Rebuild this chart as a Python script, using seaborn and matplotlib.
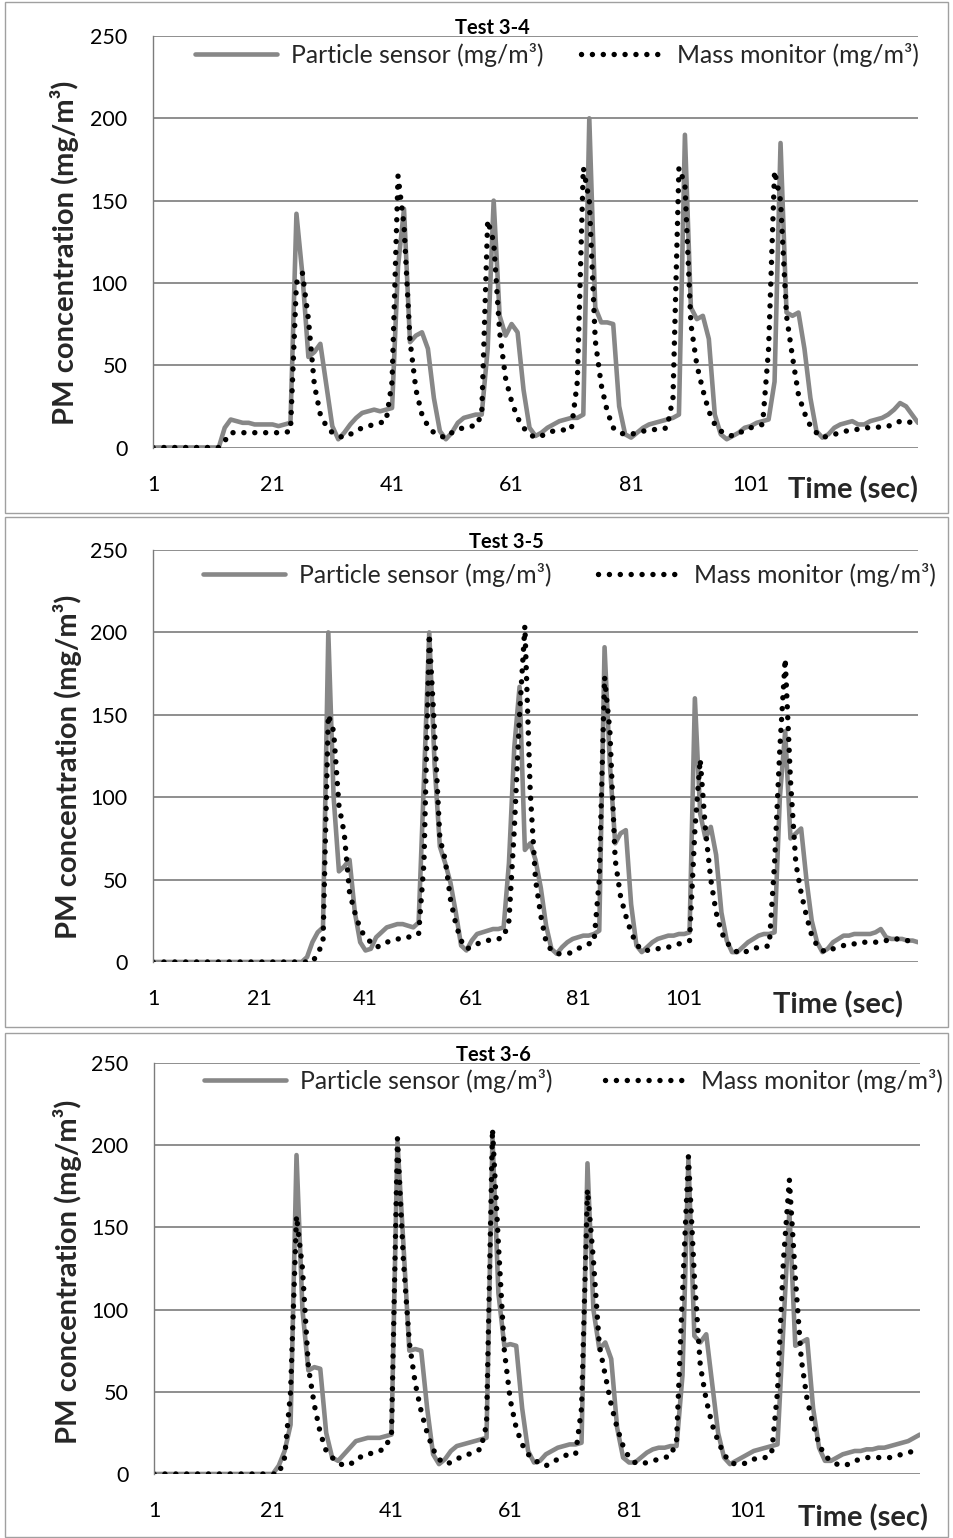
import numpy as np
import pandas as pd
import matplotlib
matplotlib.use("Agg")
import matplotlib.pyplot as plt
from matplotlib.lines import Line2D
from matplotlib.patches import Rectangle
import seaborn as sns

# ---------------------------------------------------------------- data
# PM concentration (mg/m3), one reading per second

sensor_34 = [
    0, 0, 0, 0, 0, 0, 0, 0, 0, 0, 0, 0,
    12, 17, 16, 15, 15, 14, 14, 14, 14, 13, 14, 15,
    142, 105, 55, 58, 63, 38, 13, 5, 9, 14, 18, 21, 22, 23, 22, 23, 24,
    110, 145, 64, 68, 70, 60, 30, 10, 5, 9, 15, 18, 19, 20, 20,
    60, 150, 80, 68, 75, 70, 35, 12, 7, 9, 12, 14, 16, 17, 18, 18, 20,
    200, 85, 76, 76, 75, 25, 8, 6, 9, 12, 14, 15, 16, 17, 18, 20,
    190, 85, 78, 80, 66, 20, 8, 5, 7, 9, 12, 13, 15, 16, 17, 40,
    185, 82, 80, 82, 60, 30, 10, 6, 8, 12, 14, 15, 16, 14, 14, 16, 17, 18,
    20, 23, 27, 25, 20, 15,
]
monitor_34 = [
    0, 0, 0, 0, 0, 0, 0, 0, 0, 0, 0, 0,
    4, 9, 9, 9, 9, 9, 9, 9, 9, 9, 9, 10,
    100, 106, 78, 38, 20, 13, 9, 7, 6, 8, 10, 12, 13, 14, 15, 16,
    40, 165, 135, 65, 35, 20, 13, 9, 7, 6, 9, 11, 12, 13, 13, 20,
    138, 125, 70, 42, 28, 18, 12, 8, 6, 7, 9, 10, 10, 11, 11, 40,
    170, 150, 65, 38, 22, 12, 9, 8, 8, 9, 10, 10, 11, 11, 12, 30,
    170, 160, 75, 50, 35, 22, 14, 10, 8, 7, 9, 10, 12, 13, 14, 60,
    168, 150, 80, 55, 32, 21, 13, 9, 6, 7, 8, 9, 10, 11, 11, 12, 12, 12,
    13, 13, 14, 16, 16, 15, 14,
]

sensor_35 = [
    0, 0, 0, 0, 0, 0, 0, 0, 0, 0, 0, 0, 0, 0, 0, 0, 0, 0, 0, 0,
    0, 0, 0, 0, 0, 0, 0, 0, 0,
    3, 12, 18, 21,
    200, 100, 55, 58, 62, 30, 12, 7, 8, 15, 18, 21, 22, 23, 23, 22, 21, 24, 110,
    200, 120, 70, 60, 48, 30, 10, 7, 13, 17, 18, 19, 20, 20, 21, 60, 130,
    167, 68, 72, 62, 45, 22, 8, 5, 9, 12, 14, 15, 16, 16, 17, 19,
    191, 120, 72, 78, 80, 35, 10, 6, 9, 12, 14, 15, 16, 16, 17, 17, 18,
    160, 90, 75, 82, 65, 30, 13, 6, 6, 9, 12, 14, 16, 17, 17, 18, 100,
    140, 75, 78, 81, 50, 25, 12, 6, 8, 12, 14, 16, 16, 17, 17, 17, 17, 18,
    20, 15, 14, 14, 14, 13, 13, 12,
]
monitor_35 = [
    0, 0, 0, 0, 0, 0, 0, 0, 0, 0, 0, 0, 0, 0, 0, 0, 0, 0, 0, 0,
    0, 0, 0, 0, 0, 0, 0, 0, 0, 0, 0,
    5, 12,
    150, 140, 95, 78, 42, 30, 20, 15, 12, 9, 10, 12, 13, 14, 14, 15, 16, 17, 60,
    199, 140, 75, 62, 38, 23, 13, 8, 9, 11, 12, 13, 14, 14, 15, 25, 80, 150,
    204, 104, 50, 28, 12, 7, 5, 5, 5, 6, 8, 10, 11, 12, 50,
    173, 140, 62, 40, 28, 18, 11, 7, 7, 8, 8, 9, 9, 10, 11, 12, 13, 80,
    123, 80, 50, 30, 18, 12, 8, 6, 5, 7, 8, 9, 9, 10, 60, 130,
    184, 110, 60, 42, 28, 16, 10, 7, 6, 8, 9, 10, 11, 11, 12, 12, 12, 12,
    13, 13, 14, 14, 13, 13, 12, 12,
]

sensor_36 = [
    0, 0, 0, 0, 0, 0, 0, 0, 0, 0, 0, 0, 0, 0, 0, 0, 0, 0, 0, 0, 0,
    5, 14, 30,
    194, 100, 63, 65, 64, 25, 10, 8, 12, 16, 20, 21, 22, 22, 22, 23, 24,
    202, 140, 75, 76, 75, 40, 12, 6, 9, 14, 17, 18, 19, 20, 21, 22,
    205, 110, 78, 79, 78, 40, 14, 7, 8, 12, 14, 16, 17, 18, 18, 19,
    189, 100, 76, 80, 70, 28, 10, 7, 7, 10, 13, 15, 16, 16, 17, 17, 60,
    192, 84, 80, 85, 55, 25, 10, 6, 8, 10, 12, 14, 15, 16, 17, 18, 90,
    160, 78, 80, 82, 40, 16, 8, 8, 10, 12, 13, 14, 14, 15, 15, 16, 16, 17,
    18, 19, 20, 22, 24,
]
monitor_36 = [
    0, 0, 0, 0, 0, 0, 0, 0, 0, 0, 0, 0, 0, 0, 0, 0, 0, 0, 0, 0, 0, 0,
    10, 50,
    157, 125, 65, 42, 25, 14, 10, 7, 5, 6, 8, 11, 12, 13, 14, 16, 25,
    204, 130, 80, 55, 38, 25, 15, 9, 6, 7, 9, 11, 12, 14, 15, 30,
    210, 140, 75, 45, 28, 18, 12, 9, 6, 5, 7, 9, 11, 12, 12, 40,
    173, 130, 78, 60, 42, 28, 17, 10, 7, 6, 7, 8, 9, 10, 11, 20, 110,
    193, 120, 66, 45, 30, 20, 12, 7, 6, 6, 7, 9, 10, 10, 12, 50, 130,
    179, 120, 70, 45, 30, 18, 11, 8, 6, 5, 6, 8, 9, 10, 10, 10, 10, 10,
    11, 12, 13, 14, 15,
]

titles = ["Test 3-4", "Test 3-5", "Test 3-6"]
tick_labels = ["1", "21", "41", "61", "81", "101"]
y_ticks = [0, 50, 100, 150, 200, 250]
sensor_label = "Particle sensor (mg/m\u00b3)"
monitor_label = "Mass monitor (mg/m\u00b3)"
y_label = "PM concentration (mg/m\u00b3)"
x_label = "Time (sec)"

# ---------------------------------------------------------------- style
sns.set_theme(style="white")
plt.rcParams["font.family"] = ["Lato", "DejaVu Sans"]

W, H = 954, 1538
fig = plt.figure(figsize=(W / 100, H / 100), dpi=100)

GRAY = "#878787"
GRID = "#7c7c7c"
SENSOR_LW = 3.3
MONITOR_LW = 3.9
DOTS = (0, (0.01, 2.0))

# pixel layout of each panel: plot box, outer frame, title / label anchors
layout = [
    dict(box=(153, 36, 918, 447.5), frame=(5, 2, 948, 513), title_x=492,
         ylab=(65, 253), xlab=(853, 490), leg=(195, 55), colsp=1.5),
    dict(box=(153, 550, 918, 962), frame=(5, 517, 948, 1027), title_x=506,
         ylab=(68, 767), xlab=(838, 1005), leg=(203, 575), colsp=1.85),
    dict(box=(154, 1063, 920, 1474), frame=(5, 1033, 948, 1537), title_x=493,
         ylab=(68, 1272), xlab=(863, 1518), leg=(204, 1081), colsp=2.1),
]
series = [(sensor_34, monitor_34), (sensor_35, monitor_35), (sensor_36, monitor_36)]

for title, (sensor, monitor), lay in zip(titles, series, layout):
    x0, y0, x1, y1 = lay["box"]
    ax = fig.add_axes([x0 / W, 1 - y1 / H, (x1 - x0) / W, (y1 - y0) / H])

    t = np.arange(1, len(sensor) + 1)
    df = pd.DataFrame({"t": t, "sensor": sensor, "monitor": monitor})

    sns.lineplot(data=df, x="t", y="sensor", ax=ax, color=GRAY,
                 linewidth=SENSOR_LW, legend=False, errorbar=None, sort=False)
    sns.lineplot(data=df, x="t", y="monitor", ax=ax, color="black",
                 linewidth=MONITOR_LW, linestyle=DOTS, dash_capstyle="round",
                 legend=False, errorbar=None, sort=False)

    ax.set_xlim(1, len(sensor))
    ax.set_ylim(0, 250)
    ax.set_xticks([int(v) for v in tick_labels])
    ax.set_xticklabels(tick_labels)
    ax.set_yticks(y_ticks)
    ax.set_yticklabels([str(v) for v in y_ticks])
    ax.set_xlabel("")
    ax.set_ylabel("")

    ax.yaxis.grid(True, color=GRID, linewidth=1.2)
    ax.xaxis.grid(False)
    for side in ("top", "right", "bottom"):
        ax.spines[side].set_visible(False)
    ax.spines["left"].set_color(GRID)
    ax.spines["left"].set_linewidth(1.0)
    ax.tick_params(axis="y", length=0, labelsize=15.5, pad=18.5, colors="black")
    ax.tick_params(axis="x", length=0, labelsize=15.5, pad=19.5, colors="black")
    ax.set_facecolor("white")

    aw, ah = x1 - x0, y1 - y0

    def ax_xy(px, py):
        return (px - x0) / aw, (y1 - py) / ah

    # title sits on the top gridline
    tx, ty = ax_xy(lay["title_x"], y0 - 2)
    ax.text(tx, ty, title, transform=ax.transAxes, ha="center", va="baseline",
            fontsize=14.5, fontweight="bold", color="black")

    lx, ly = ax_xy(*lay["ylab"])
    ax.text(lx, ly, y_label, transform=ax.transAxes, rotation=90,
            ha="center", va="center", fontsize=21, fontweight="bold")

    xx, xy = ax_xy(*lay["xlab"])
    ax.text(xx, xy, x_label, transform=ax.transAxes, ha="center",
            va="center", fontsize=21, fontweight="bold")

    handles = [
        Line2D([], [], color=GRAY, linewidth=SENSOR_LW),
        Line2D([], [], color="black", linewidth=MONITOR_LW, linestyle=DOTS,
               dash_capstyle="round"),
    ]
    gx, gy = ax_xy(*lay["leg"])
    ax.legend(handles, [sensor_label, monitor_label], loc="center left",
              bbox_to_anchor=(gx, gy), ncol=2, frameon=False, fontsize=17.8,
              handlelength=3.3, handletextpad=0.6, columnspacing=lay["colsp"],
              borderpad=0, borderaxespad=0)

    fx0, fy0, fx1, fy1 = lay["frame"]
    fig.add_artist(Rectangle((fx0 / W, 1 - fy1 / H), (fx1 - fx0) / W,
                             (fy1 - fy0) / H, transform=fig.transFigure,
                             fill=False, edgecolor="#a0a0a0", linewidth=1.0))

fig.savefig("out.png", dpi=100, facecolor="white")
